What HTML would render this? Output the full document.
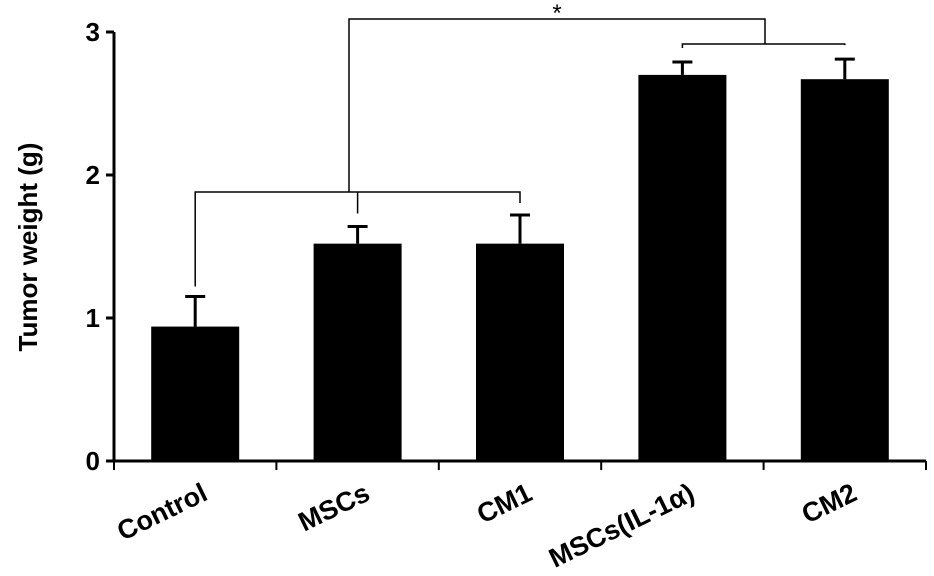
<!DOCTYPE html>
<html><head><meta charset="utf-8"><style>
html,body{margin:0;padding:0;background:#fff;}
svg{display:block;font-family:"Liberation Sans",Arial,sans-serif;}
</style></head><body>
<svg id="chart" width="934" height="576" viewBox="0 0 934 576" xmlns="http://www.w3.org/2000/svg">
<g id="axes"></g><g id="bars"></g><g id="brackets" fill="none" stroke="#000" stroke-width="1.5"></g>
</svg>
<script>
const categories = ["Control","MSCs","CM1","MSCs(IL-1\u03b1)","CM2"];
const values = [0.94,1.52,1.52,2.70,2.67];
const errors = [0.21,0.12,0.20,0.09,0.14];
const yTicks = [0,1,2,3];
const NS="http://www.w3.org/2000/svg";
const x0=114,x1=926,yBase=461,yTop=32,yMax=3;
const band=(x1-x0)/categories.length;
const xc=i=>x0+band*(i+0.5);
const y=v=>yBase-(v/yMax)*(yBase-yTop);
function mk(tag,attrs,parent,text){const e=document.createElementNS(NS,tag);for(const k in attrs)e.setAttribute(k,attrs[k]);if(text!==undefined)e.textContent=text;parent.appendChild(e);return e;}
const axes=document.getElementById('axes'),bars=document.getElementById('bars'),br=document.getElementById('brackets');
let e=mk('line',{x1:x0,y1:yTop,x2:x0,y2:yBase,stroke:'#000','stroke-width':3},axes);

e=mk('line',{x1:x0,y1:yBase,x2:x1,y2:yBase,stroke:'#000','stroke-width':3},axes);

yTicks.forEach(t=>{
  let l=mk('line',{x1:x0-8,y1:y(t),x2:x0,y2:y(t),stroke:'#000','stroke-width':3},axes);
  
  let tx=mk('text',{x:x0-14,y:y(t)+9,'text-anchor':'end','font-size':26,'font-weight':'bold'},axes,String(t));
  
});
for(let i=0;i<=categories.length;i++){
  let l=mk('line',{x1:x0+band*i,y1:yBase,x2:x0+band*i,y2:yBase+9,stroke:'#000','stroke-width':2},axes);
  
}
let yt=mk('text',{x:0,y:0,transform:'translate(37,247) rotate(-90)','text-anchor':'middle','font-size':26,'font-weight':'bold'},axes,'Tumor weight (g)');

categories.forEach((c,i)=>{
  const cx=xc(i),w=88;
  let r=mk('rect',{x:cx-w/2,y:y(values[i]),width:w,height:yBase-y(values[i]),fill:'#000'},bars);
  
  const et=y(values[i]+errors[i]);
  let el=mk('path',{d:`M${cx},${y(values[i])}V${et}M${cx-10},${et}H${cx+10}`,stroke:'#000','stroke-width':3,fill:'none'},bars);
  
  let lb=mk('text',{x:0,y:0,transform:`translate(${cx+14},${yBase+38}) rotate(-26)`,'text-anchor':'end','font-size':27,'font-weight':'bold'},axes,c);
  
});
const yb1=192, yTopB=19, yb2=44;
let p=mk('path',{d:`M${xc(0)},${y(values[0]+errors[0])-10}V${yb1}H${xc(2)}V${y(values[2]+errors[2])-12}M${xc(1)},${yb1}V${y(values[1]+errors[1])-13}`},br);

p=mk('path',{d:`M${xc(3)},${y(values[3]+errors[3])-14}V${yb2}H${xc(4)}V${y(values[4]+errors[4])-14}`},br);

const lc=349, rc=765;
p=mk('path',{d:`M${lc},${yb1}V${yTopB}H${rc}V${yb2}`},br);

let st=mk('text',{x:(lc+rc)/2,y:21,'text-anchor':'middle','font-size':24},axes,'*');

</script>
</body></html>
